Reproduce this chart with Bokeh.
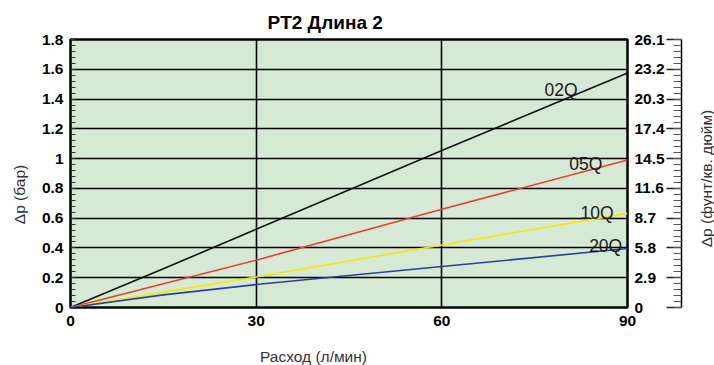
from math import pi
from bokeh.plotting import figure
from bokeh.models import (Range1d, LinearAxis, FixedTicker, Title, Label,
                          CustomJSTickFormatter, ColumnDataSource)
from bokeh.embed import file_html
from bokeh.resources import INLINE
from bokeh.core.properties import value

# ---------------- data ----------------
flow = [0, 15, 30, 60, 90]                      # Расход (л/мин)
dp_02q = [0, 0.26, 0.525, 1.054, 1.575]         # Δp (бар)
dp_05q = [0, 0.16, 0.318, 0.66, 0.99]
dp_10q = [0, 0.103, 0.205, 0.42, 0.632]
dp_20q = [0, 0.085, 0.154, 0.275, 0.396]
series_names = ["02Q", "05Q", "10Q", "20Q"]
series_colors = ["#111111", "#e8402f", "#f7e600", "#2b3f9c"]
name_x = [76.6, 80.6, 82.4, 83.8]
name_y = [1.464, 0.967, 0.638, 0.416]

x_ticks = [0, 30, 60, 90]
bar_ticks = [0, 0.2, 0.4, 0.6, 0.8, 1.0, 1.2, 1.4, 1.6, 1.8]
psi_ticks = [0, 2.9, 5.8, 8.7, 11.6, 14.5, 17.4, 20.3, 23.2, 26.1]
bar_minor = [round(i * 0.04, 2) for i in range(46)]
psi_minor = [round(i * 0.58, 2) for i in range(46)]

title_text = "PT2 Длина 2"
x_title = "Расход (л/мин)"
y_title = "Δp (бар)"
y2_title = "Δp (фунт/кв. дюйм)"

FONT = "Liberation Sans"
fmt = CustomJSTickFormatter(code="return tick.toFixed(1).replace(/\\.0$/, '');")

p = figure(width=714, height=365, output_backend="svg", toolbar_location=None,
           x_range=Range1d(0, 90), y_range=Range1d(0, 1.8),
           min_border_left=70, min_border_right=87, min_border_top=39,
           min_border_bottom=58)
p.extra_y_ranges = {"psi": Range1d(0, 26.1)}
p.background_fill_color = "#d5e9d4"
p.border_fill_color = "white"
p.outline_line_color = "black"
p.outline_line_width = 2.5

# grid
p.xgrid.ticker = FixedTicker(ticks=x_ticks)
p.ygrid.ticker = FixedTicker(ticks=bar_ticks)
for g in (p.xgrid, p.ygrid):
    g.grid_line_color = "black"
    g.grid_line_width = 1.6
    g.grid_line_alpha = 1

# bottom axis
xa = p.xaxis[0]
xa.ticker = FixedTicker(ticks=x_ticks)
xa.axis_line_color = None
xa.major_tick_line_color = None
xa.minor_tick_line_color = None
xa.major_tick_out = 0
xa.major_tick_in = 0
xa.major_label_standoff = 8
xa.major_label_text_font = FONT
xa.major_label_text_font_style = "bold"
xa.major_label_text_font_size = "15.5px"
xa.major_label_text_color = "black"

# left axis
ya = p.yaxis[0]
ya.ticker = FixedTicker(ticks=bar_ticks, minor_ticks=bar_minor)
ya.formatter = fmt
ya.axis_line_color = None
ya.major_tick_out = 0
ya.major_tick_in = 6
ya.major_tick_line_color = "black"
ya.minor_tick_out = 0
ya.minor_tick_in = 5
ya.minor_tick_line_color = "#333333"
ya.minor_tick_line_width = 1
ya.major_label_standoff = 7
ya.major_label_text_font = FONT
ya.major_label_text_font_style = "bold"
ya.major_label_text_font_size = "15.5px"
ya.major_label_text_color = "black"

# right labels axis (psi values)
ra = LinearAxis(y_range_name="psi", ticker=FixedTicker(ticks=psi_ticks), formatter=fmt)
ra.axis_line_color = None
ra.major_tick_line_color = None
ra.minor_tick_line_color = None
ra.major_tick_out = 0
ra.major_tick_in = 0
ra.major_label_standoff = 7
ra.major_label_text_font = FONT
ra.major_label_text_font_style = "bold"
ra.major_label_text_font_size = "15.5px"
ra.major_label_text_color = "black"
ra.axis_label = " "
ra.axis_label_standoff = 0
ra.axis_label_text_font_size = "9.5px"
p.add_layout(ra, "right")

# right ruler axis
rr = LinearAxis(y_range_name="psi", ticker=FixedTicker(ticks=psi_ticks, minor_ticks=psi_minor),
                formatter=CustomJSTickFormatter(code="return '';"))
rr.axis_line_color = "black"
rr.axis_line_width = 1.5
rr.major_tick_out = 0
rr.major_tick_in = 15
rr.major_tick_line_color = "#222222"
rr.major_tick_line_width = 1.5
rr.minor_tick_out = 0
rr.minor_tick_in = 8
rr.minor_tick_line_color = "#555555"
rr.minor_tick_line_width = 1.2
rr.major_label_standoff = 0
p.add_layout(rr, "right")

# axis titles, each in a side panel
title_style = dict(x_units="screen", y_units="screen", text_font=FONT,
                   text_font_size="15.5px", text_color="#333333",
                   text_align="center", text_baseline="middle")
p.add_layout(Label(x=25, y=129, angle=pi / 2, text=y2_title, **title_style), "right")
p.add_layout(Label(x=-2, y=113, angle=pi / 2, text=y_title, **title_style), "left")
p.add_layout(Label(x=243, y=-11, text=x_title, **title_style), "below")

# curves
for ys, c in zip([dp_02q, dp_05q, dp_10q, dp_20q], series_colors):
    p.line(flow, ys, line_color=c, line_width=1.6)

src = ColumnDataSource(dict(x=name_x, y=name_y, t=series_names))
p.text(x="x", y="y", text="t", source=src, text_font=value(FONT),
       text_font_size="17.5px", text_color="#1a1a1a",
       text_align="left", text_baseline="alphabetic")

# chart title
p.add_layout(Title(text=title_text, align="left", offset=197, standoff=14,
                   text_font=FONT, text_font_style="bold", text_font_size="19px",
                   text_color="black"), "above")

open("out.html", "w").write(file_html(p, INLINE))
